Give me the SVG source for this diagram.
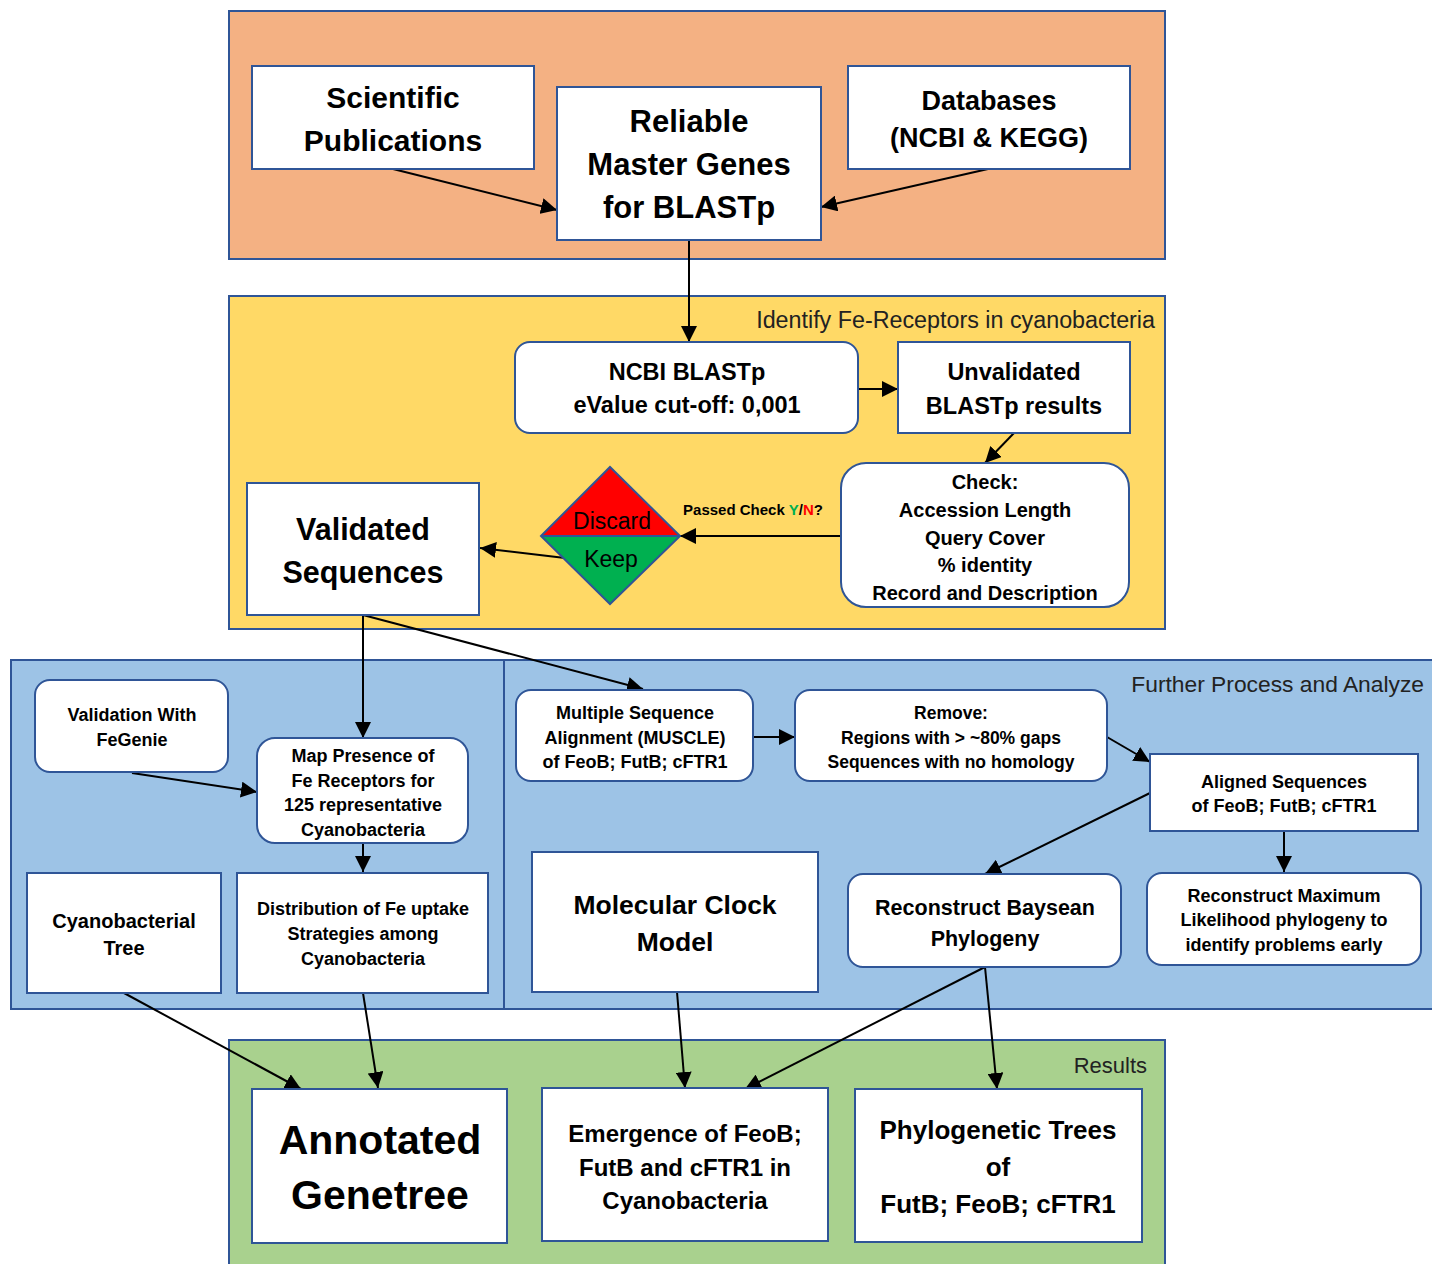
<svg xmlns="http://www.w3.org/2000/svg" width="1432" height="1264" viewBox="0 0 1432 1264">
<defs>
<marker id="a" viewBox="0 0 12 12" refX="12" refY="6" markerWidth="16" markerHeight="16" markerUnits="userSpaceOnUse" orient="auto">
<path d="M0,0 L12,6 L0,12 z" fill="#000"/>
</marker>
<style>
.panel{stroke:#2F5597;stroke-width:2}
.box{fill:#fff;stroke:#2F5597;stroke-width:2}
.t{font-family:"Liberation Sans Narrow","Liberation Sans",Arial,sans-serif;font-weight:bold;fill:#000;text-anchor:middle}
.r{font-family:"Liberation Sans Narrow","Liberation Sans",Arial,sans-serif;fill:#222;text-anchor:end}
.c{stroke:#000;stroke-width:2;fill:none;marker-end:url(#a)}
</style>
</defs>
<rect width="1432" height="1264" fill="#fff"/>

<g id="panels">
<rect class="panel" x="229" y="11" width="936" height="248" fill="#F4B183"/>
<rect class="panel" x="229" y="296" width="936" height="333" fill="#FFD966"/>
<rect class="panel" x="11" y="660" width="1430" height="349" fill="#9DC3E6"/>
<line x1="504" y1="660" x2="504" y2="1009" stroke="#2F5597" stroke-width="2"/>
<rect class="panel" x="229" y="1040" width="936" height="240" fill="#A9D18E"/>
<text class="r" x="1155" y="328" font-size="23.3">Identify Fe-Receptors in cyanobacteria</text>
<text class="r" x="1424" y="692" font-size="22.8">Further Process and Analyze</text>
<text class="r" x="1147" y="1073" font-size="22">Results</text>
</g>

<g id="connectors">
<line class="c" x1="393" y1="169" x2="557" y2="210"/>
<line class="c" x1="988" y1="169" x2="821" y2="207"/>
<line class="c" x1="689" y1="240" x2="689" y2="342"/>
<line class="c" x1="858" y1="389" x2="898" y2="389"/>
<line class="c" x1="1014" y1="433" x2="985" y2="463"/>
<line class="c" x1="841" y1="536" x2="680" y2="536"/>
<line class="c" x1="565" y1="558" x2="480" y2="548"/>
<line class="c" x1="363" y1="615" x2="363" y2="738"/>
<line class="c" x1="363" y1="615" x2="643" y2="689"/>
<line class="c" x1="132" y1="773" x2="257" y2="792"/>
<line class="c" x1="363" y1="843" x2="363" y2="872"/>
<line class="c" x1="753" y1="737" x2="795" y2="737"/>
<line class="c" x1="1107" y1="737" x2="1150" y2="762"/>
<line class="c" x1="1150" y1="793" x2="985" y2="874"/>
<line class="c" x1="1284" y1="831" x2="1284" y2="872"/>
<line class="c" x1="124" y1="993" x2="301" y2="1089"/>
<line class="c" x1="363" y1="993" x2="378" y2="1088"/>
<line class="c" x1="677" y1="992" x2="685" y2="1088"/>
<line class="c" x1="985" y1="967" x2="745" y2="1089"/>
<line class="c" x1="985" y1="967" x2="997" y2="1089"/>
</g>

<g id="n-pubs">
<rect class="box" x="252" y="66" width="282" height="103"/>
<text class="t" font-size="30"><tspan x="393" y="108">Scientific</tspan><tspan x="393" y="151">Publications</tspan></text>
</g>
<g id="n-master">
<rect class="box" x="557" y="87" width="264" height="153"/>
<text class="t" font-size="31"><tspan x="689" y="132">Reliable</tspan><tspan x="689" y="175">Master Genes</tspan><tspan x="689" y="218">for BLASTp</tspan></text>
</g>
<g id="n-db">
<rect class="box" x="848" y="66" width="282" height="103"/>
<text class="t" font-size="27"><tspan x="989" y="110">Databases</tspan><tspan x="989" y="147">(NCBI &amp; KEGG)</tspan></text>
</g>
<g id="n-blastp">
<rect class="box" x="515" y="342" width="343" height="91" rx="15"/>
<text class="t" font-size="23.5"><tspan x="687" y="380">NCBI BLASTp</tspan><tspan x="687" y="413">eValue cut-off: 0,001</tspan></text>
</g>
<g id="n-unval">
<rect class="box" x="898" y="342" width="232" height="91"/>
<text class="t" font-size="23.5"><tspan x="1014" y="380">Unvalidated</tspan><tspan x="1014" y="414">BLASTp results</tspan></text>
</g>
<g id="n-check">
<rect class="box" x="841" y="463" width="288" height="144" rx="25"/>
<text class="t" font-size="20"><tspan x="985" y="489">Check:</tspan><tspan x="985" y="517">Accession Length</tspan><tspan x="985" y="545">Query Cover</tspan><tspan x="985" y="572">% identity</tspan><tspan x="985" y="600">Record and Description</tspan></text>
</g>
<g id="n-decision">
<path d="M541,536 L610,467 L680,536 z" fill="#FF0000"/>
<path d="M541,536 L610,604 L680,536 z" fill="#00B050"/>
<path d="M541,536 L610,467 L680,536 L610,604 z M541,536 L680,536" fill="none" stroke="#2F5597" stroke-width="2"/>
<text font-family="'Liberation Sans Narrow','Liberation Sans',Arial,sans-serif" font-size="23" text-anchor="middle" x="612" y="529">Discard</text>
<text font-family="'Liberation Sans Narrow','Liberation Sans',Arial,sans-serif" font-size="23" text-anchor="middle" x="611" y="567">Keep</text>
<text class="t" font-size="15" x="753" y="515">Passed Check <tspan fill="#00B050">Y</tspan>/<tspan fill="#FF0000">N</tspan>?</text>
</g>
<g id="n-valid">
<rect class="box" x="247" y="483" width="232" height="132"/>
<text class="t" font-size="30.5"><tspan x="363" y="540">Validated</tspan><tspan x="363" y="583">Sequences</tspan></text>
</g>
<g id="n-fegenie">
<rect class="box" x="35" y="680" width="193" height="92" rx="15"/>
<text class="t" font-size="18"><tspan x="132" y="721">Validation With</tspan><tspan x="132" y="746">FeGenie</tspan></text>
</g>
<g id="n-map">
<rect class="box" x="257" y="738" width="211" height="105" rx="18"/>
<text class="t" font-size="18"><tspan x="363" y="762">Map Presence of</tspan><tspan x="363" y="787">Fe Receptors for</tspan><tspan x="363" y="811">125 representative</tspan><tspan x="363" y="836">Cyanobacteria</tspan></text>
</g>
<g id="n-cyantree">
<rect class="box" x="27" y="873" width="194" height="120"/>
<text class="t" font-size="20"><tspan x="124" y="928">Cyanobacterial</tspan><tspan x="124" y="955">Tree</tspan></text>
</g>
<g id="n-distr">
<rect class="box" x="237" y="873" width="251" height="120"/>
<text class="t" font-size="18"><tspan x="363" y="915">Distribution of Fe uptake</tspan><tspan x="363" y="940">Strategies among</tspan><tspan x="363" y="965">Cyanobacteria</tspan></text>
</g>
<g id="n-msa">
<rect class="box" x="516" y="690" width="237" height="91" rx="15"/>
<text class="t" font-size="18"><tspan x="635" y="719">Multiple Sequence</tspan><tspan x="635" y="744">Alignment (MUSCLE)</tspan><tspan x="635" y="768">of FeoB; FutB; cFTR1</tspan></text>
</g>
<g id="n-remove">
<rect class="box" x="795" y="690" width="312" height="91" rx="15"/>
<text class="t" font-size="17.5"><tspan x="951" y="719">Remove:</tspan><tspan x="951" y="744">Regions with &gt; ~80% gaps</tspan><tspan x="951" y="768">Sequences with no homology</tspan></text>
</g>
<g id="n-aligned">
<rect class="box" x="1150" y="754" width="268" height="77"/>
<text class="t" font-size="18"><tspan x="1284" y="788">Aligned Sequences</tspan><tspan x="1284" y="812">of FeoB; FutB; cFTR1</tspan></text>
</g>
<g id="n-clock">
<rect class="box" x="532" y="852" width="286" height="140"/>
<text class="t" font-size="26.5"><tspan x="675" y="914">Molecular Clock</tspan><tspan x="675" y="951">Model</tspan></text>
</g>
<g id="n-bayes">
<rect class="box" x="848" y="874" width="273" height="93" rx="15"/>
<text class="t" font-size="21.5"><tspan x="985" y="915">Reconstruct Baysean</tspan><tspan x="985" y="946">Phylogeny</tspan></text>
</g>
<g id="n-ml">
<rect class="box" x="1147" y="873" width="274" height="92" rx="15"/>
<text class="t" font-size="18"><tspan x="1284" y="902">Reconstruct Maximum</tspan><tspan x="1284" y="926">Likelihood phylogeny to</tspan><tspan x="1284" y="951">identify problems early</tspan></text>
</g>
<g id="n-genetree">
<rect class="box" x="252" y="1089" width="255" height="154"/>
<text class="t" font-size="41"><tspan x="380" y="1154">Annotated</tspan><tspan x="380" y="1209">Genetree</tspan></text>
</g>
<g id="n-emergence">
<rect class="box" x="542" y="1088" width="286" height="153"/>
<text class="t" font-size="24"><tspan x="685" y="1142">Emergence of FeoB;</tspan><tspan x="685" y="1176">FutB and cFTR1 in</tspan><tspan x="685" y="1209">Cyanobacteria</tspan></text>
</g>
<g id="n-phylo">
<rect class="box" x="855" y="1089" width="287" height="153"/>
<text class="t" font-size="26"><tspan x="998" y="1139">Phylogenetic Trees</tspan><tspan x="998" y="1176">of</tspan><tspan x="998" y="1213">FutB; FeoB; cFTR1</tspan></text>
</g>
</svg>
